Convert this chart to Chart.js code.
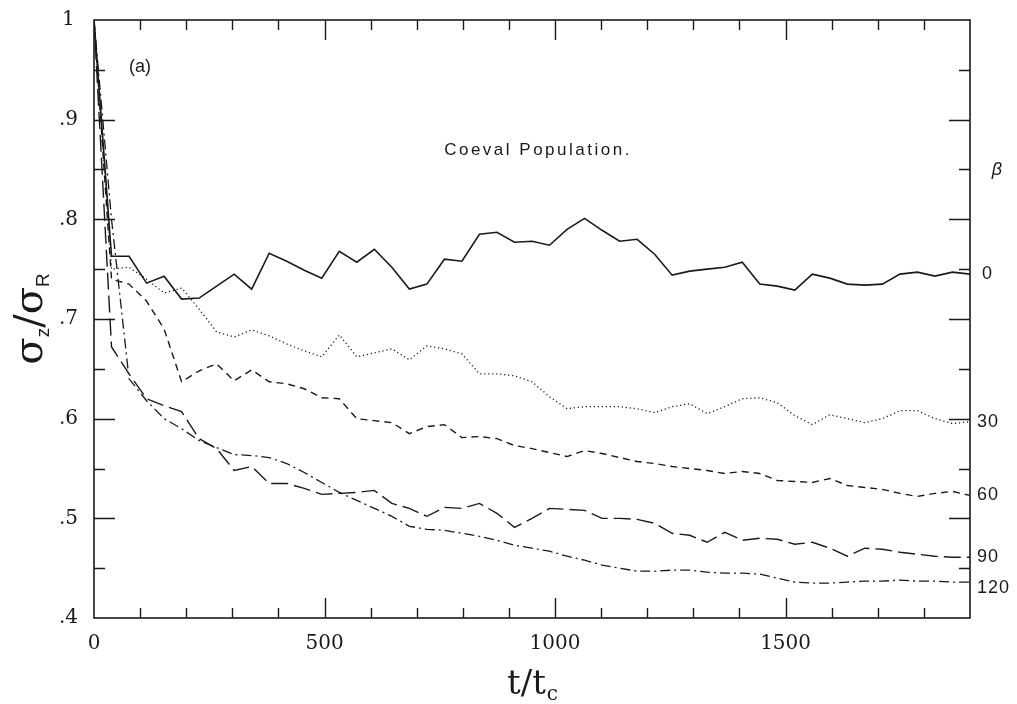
<!DOCTYPE html>
<html>
<head>
<meta charset="utf-8">
<title>Coeval Population</title>
<script src="https://cdn.jsdelivr.net/npm/chart.js@4/dist/chart.umd.min.js"></script>
<style>
  html, body { margin: 0; padding: 0; background: #fff; }
  #wrap { width: 1017px; height: 704px; }
</style>
</head>
<body>
<div id="wrap"><canvas id="chart" width="1017" height="704"></canvas></div>
<script>
// sample times t/tc (one output every 38 tc)
const times = [0, 38, 76, 114, 152, 190, 228, 266, 304, 342, 380, 418, 456, 494, 532, 570, 608, 646, 684, 722,
  760, 798, 836, 874, 912, 950, 988, 1026, 1064, 1102, 1140, 1178, 1216, 1254, 1292, 1330, 1368, 1406, 1444, 1482,
  1520, 1558, 1596, 1634, 1672, 1710, 1748, 1786, 1824, 1862, 1900];

// sigma_z / sigma_R for each beta
const beta0 = [1.0, 0.763, 0.763, 0.736, 0.743, 0.72, 0.721, 0.733, 0.745, 0.73, 0.766, 0.758, 0.749, 0.741, 0.768, 0.757, 0.77, 0.752, 0.73, 0.735,
  0.76, 0.758, 0.785, 0.787, 0.777, 0.778, 0.774, 0.79, 0.801, 0.789, 0.778, 0.78, 0.765, 0.744, 0.748, 0.75, 0.752, 0.757, 0.735, 0.733,
  0.729, 0.745, 0.741, 0.735, 0.734, 0.735, 0.745, 0.747, 0.743, 0.747, 0.745];
const beta30 = [1.0, 0.75, 0.752, 0.74, 0.726, 0.731, 0.71, 0.687, 0.682, 0.689, 0.683, 0.675, 0.668, 0.662, 0.684, 0.662, 0.666, 0.67, 0.659, 0.673,
  0.67, 0.665, 0.645, 0.645, 0.643, 0.637, 0.622, 0.61, 0.612, 0.612, 0.612, 0.61, 0.606, 0.612, 0.615, 0.605, 0.612, 0.62, 0.621, 0.616,
  0.603, 0.594, 0.604, 0.6, 0.596, 0.6, 0.608, 0.608, 0.6, 0.595, 0.597];
const beta60 = [1.0, 0.74, 0.735, 0.718, 0.69, 0.637, 0.648, 0.655, 0.638, 0.649, 0.637, 0.635, 0.63, 0.621, 0.62, 0.6, 0.598, 0.596, 0.585, 0.592,
  0.594, 0.581, 0.582, 0.58, 0.573, 0.57, 0.566, 0.562, 0.568, 0.565, 0.561, 0.557, 0.555, 0.552, 0.55, 0.548, 0.545, 0.547, 0.545, 0.538,
  0.537, 0.536, 0.54, 0.533, 0.531, 0.529, 0.525, 0.522, 0.525, 0.527, 0.523];
const beta90 = [1.0, 0.672, 0.645, 0.62, 0.613, 0.607, 0.58, 0.57, 0.548, 0.552, 0.535, 0.535, 0.53, 0.524, 0.525, 0.526, 0.528, 0.515, 0.51, 0.502,
  0.511, 0.51, 0.515, 0.505, 0.491, 0.5, 0.51, 0.509, 0.508, 0.5, 0.5, 0.499, 0.495, 0.485, 0.483, 0.476, 0.486, 0.478, 0.48, 0.479,
  0.474, 0.476, 0.47, 0.462, 0.47, 0.469, 0.466, 0.464, 0.462, 0.461, 0.461];
const beta120 = [1.0, 0.8, 0.64, 0.618, 0.6, 0.59, 0.578, 0.571, 0.564, 0.563, 0.561, 0.555, 0.546, 0.536, 0.526, 0.518, 0.51, 0.502, 0.492, 0.489,
  0.488, 0.485, 0.482, 0.478, 0.473, 0.47, 0.467, 0.462, 0.458, 0.453, 0.45, 0.447, 0.447, 0.448, 0.448, 0.446, 0.445, 0.445, 0.444, 0.44,
  0.436, 0.435, 0.435, 0.436, 0.437, 0.437, 0.438, 0.437, 0.437, 0.436, 0.436];

const betaLabels = ['0', '30', '60', '90', '120'];
const xTickLabels = [0, 500, 1000, 1500];
const yTickLabels = [0.4, 0.5, 0.6, 0.7, 0.8, 0.9, 1.0];

const INK = '#1a1a1a';
const serif = '"DejaVu Serif", serif';
const sans = '"Liberation Sans", Arial, sans-serif';

function series(values, dash, width) {
  return {
    data: values.map((v, i) => ({ x: times[i], y: v })),
    borderColor: INK,
    borderWidth: width,
    borderDash: dash,
    pointRadius: 0,
    tension: 0,
    fill: false
  };
}

// frame, inward ticks and all free text
const decorations = {
  id: 'decorations',
  afterDraw(chart) {
    const { ctx, chartArea: a, scales: { x, y } } = chart;
    ctx.save();
    ctx.strokeStyle = INK;
    ctx.lineWidth = 1.6;
    ctx.strokeRect(a.left, a.top, a.right - a.left, a.bottom - a.top);

    ctx.lineWidth = 1.4;
    ctx.beginPath();
    for (let v = 100; v < 1900; v += 100) {
      const px = Math.round(x.getPixelForValue(v)) + 0.5;
      const len = v % 500 === 0 ? 20 : 10;
      ctx.moveTo(px, a.bottom); ctx.lineTo(px, a.bottom - len);
      ctx.moveTo(px, a.top); ctx.lineTo(px, a.top + len);
    }
    for (let k = 9; k < 20; k++) {
      const v = k * 0.05;
      const py = Math.round(y.getPixelForValue(v)) + 0.5;
      const len = k % 2 === 0 ? 21 : 11;
      ctx.moveTo(a.left, py); ctx.lineTo(a.left + len, py);
      ctx.moveTo(a.right, py); ctx.lineTo(a.right - len, py);
    }
    ctx.stroke();

    ctx.fillStyle = INK;
    ctx.textBaseline = 'middle';

    // panel tag and caption
    ctx.font = '18px ' + sans;
    ctx.textAlign = 'left';
    ctx.fillText('(a)', 129, 67);
    ctx.font = '17px ' + sans;
    ctx.letterSpacing = '2.5px';
    ctx.textAlign = 'center';
    ctx.fillText('Coeval Population.', 538, 150);
    ctx.letterSpacing = '0px';

    // beta labels beside the end of each curve
    ctx.font = 'italic 18px ' + sans;
    ctx.fillText('\u03b2', 997, 170);
    ctx.font = '18px ' + sans;
    ctx.textAlign = 'left';
    ctx.letterSpacing = '1px';
    const ends = [beta0, beta30, beta60, beta90, beta120].map(s => s[s.length - 1]);
    betaLabels.forEach((lab, i) => {
      const py = y.getPixelForValue(ends[i]) + (i === 4 ? 6 : 0);
      ctx.fillText(lab, lab.length === 1 ? 982 : 977, py);
    });
    ctx.letterSpacing = '0px';

    // x axis title: t / t_c
    ctx.textBaseline = 'alphabetic';
    const big = '34px ' + serif;
    const sub = '20px ' + serif;
    ctx.font = big;
    const w1 = ctx.measureText('t/t').width;
    ctx.font = sub;
    const w2 = ctx.measureText('c').width;
    let cx = (a.left + a.right) / 2 - (w1 + w2) / 2;
    ctx.font = big;
    ctx.fillText('t/t', cx, 694);
    ctx.font = sub;
    ctx.fillText('c', cx + w1 + 1, 700);

    // y axis title: sigma_z / sigma_R
    ctx.save();
    ctx.translate(42, (a.top + a.bottom) / 2);
    ctx.rotate(-Math.PI / 2);
    const gBig = '40px ' + serif;
    const gSub = '19px ' + sans;
    const parts = [['\u03c3', gBig, 0], ['z', gSub, 7], ['/', gBig, 0], ['\u03c3', gBig, 0], ['R', gSub, 7]];
    let total = 0;
    parts.forEach(p => { ctx.font = p[1]; total += ctx.measureText(p[0]).width; });
    let px = -total / 2;
    parts.forEach(p => {
      ctx.font = p[1];
      ctx.fillText(p[0], px, p[2]);
      px += ctx.measureText(p[0]).width;
    });
    ctx.restore();

    ctx.restore();
  }
};

new Chart(document.getElementById('chart'), {
  type: 'line',
  data: {
    datasets: [
      series(beta0, [], 1.6),
      series(beta30, [1.2, 2.8], 1.3),
      series(beta60, [7, 5], 1.4),
      series(beta90, [17, 6], 1.4),
      series(beta120, [10, 4, 2, 4], 1.3)
    ]
  },
  options: {
    responsive: false,
    animation: false,
    layout: { padding: { top: 16, right: 47, left: 0, bottom: 0 } },
    plugins: { legend: { display: false }, tooltip: { enabled: false } },
    scales: {
      x: {
        type: 'linear',
        min: 0,
        max: 1900,
        grid: { display: false },
        border: { display: false },
        afterBuildTicks: s => { s.ticks = xTickLabels.map(v => ({ value: v })); },
        afterFit: s => { s.height = 86; },
        ticks: {
          color: INK,
          padding: 6,
          maxRotation: 0,
          font: { family: serif, size: 20 },
          callback: v => String(v)
        }
      },
      y: {
        min: 0.4,
        max: 1.0,
        grid: { display: false },
        border: { display: false },
        afterBuildTicks: s => { s.ticks = yTickLabels.map(v => ({ value: v })); },
        afterFit: s => { s.width = 94; },
        ticks: {
          color: INK,
          padding: 8,
          crossAlign: 'center',
          font: { family: serif, size: 20 },
          callback: v => (v >= 1 ? '1' : v.toFixed(1).replace(/^0/, ''))
        }
      }
    }
  },
  plugins: [decorations]
});
</script>
</body>
</html>
